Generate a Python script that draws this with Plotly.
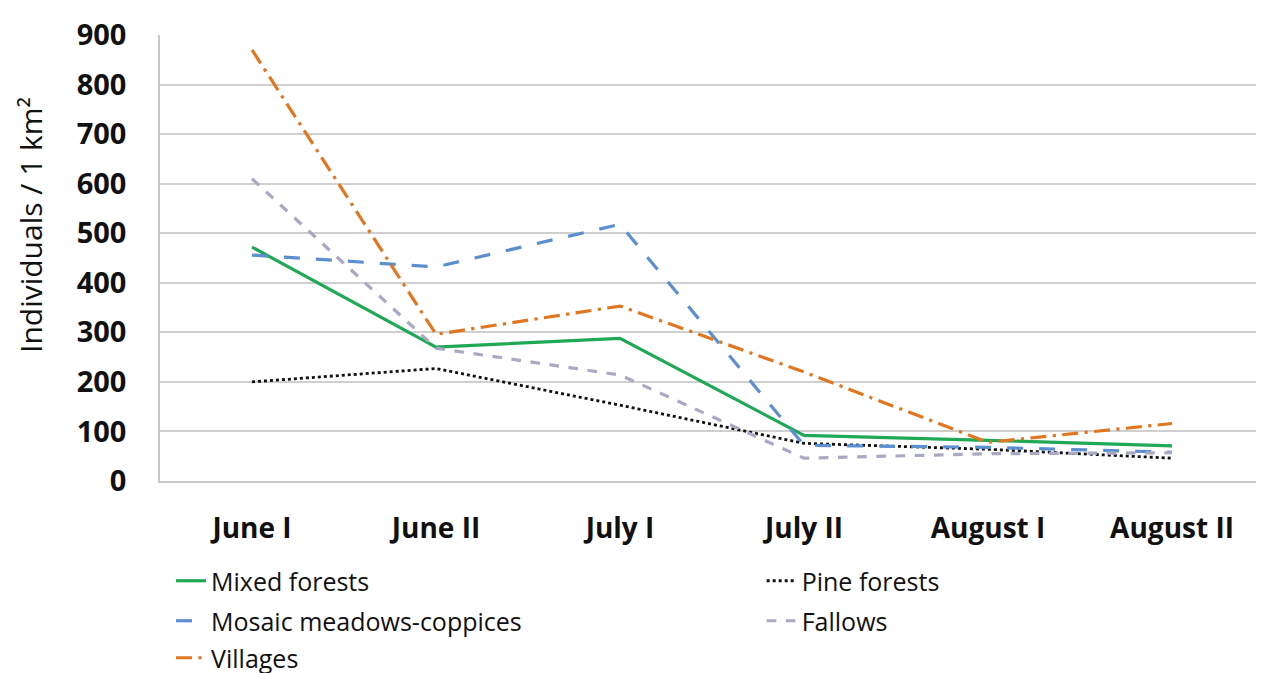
import plotly.graph_objects as go

categories = ["June I", "June II", "July I", "July II", "August I", "August II"]
mixed_forests = [472, 270, 288, 92, 82, 71]
pine_forests = [200, 227, 153, 76, 64, 46]
mosaic = [456, 432, 518, 72, 68, 58]
fallows = [610, 268, 214, 46, 55, 57]
villages = [870, 296, 353, 220, 78, 116]

FONT = "Open Sans"

H = 446.0
def py(ypix):
    return (481 - ypix) / H

COL1, COL2 = 0.010, 0.545

# name, values, colour, dash, width, legend id, legend x, legend y (ref px)
series = [
    ("Mixed forests", mixed_forests, "#1fa855", "solid", 3.2, "legend", COL1, 581),
    ("Pine forests", pine_forests, "#111111", "dot", 2.8, "legend2", COL2, 581),
    ("Mosaic meadows-coppices", mosaic, "#5b8fd0", "longdash", 3.2, "legend3", COL1, 621),
    ("Fallows", fallows, "#a9a9c6", "dash", 3.2, "legend4", COL2, 621),
    ("Villages", villages, "#e0761f", "longdashdot", 3.2, "legend5", COL1, 658),
]

fig = go.Figure()
legends = {}
for name, vals, color, dash, width, leg, lx, ly in series:
    fig.add_trace(go.Scatter(
        x=categories, y=vals, mode="lines", name=name,
        line=dict(color=color, dash=dash, width=width),
        legend=leg, showlegend=True,
    ))
    legends[leg] = dict(
        x=lx, y=py(ly), xanchor="left", yanchor="middle",
        orientation="h",
        font=dict(family=FONT, size=25, color="#111111"),
        bgcolor="rgba(0,0,0,0)",
        itemclick=False, itemdoubleclick=False,
    )

fig.update_layout(
    width=1256, height=665,
    showlegend=True,
    margin=dict(l=152, r=0, t=27, b=192, autoexpand=False),
    paper_bgcolor="white", plot_bgcolor="white",
    font=dict(family=FONT, color="#111111"),
    **legends,
    xaxis=dict(
        type="category", range=[-0.5, 5.5],
        showgrid=False, showline=True, linecolor="#c8c8c8", linewidth=1.5,
        ticks="", tickfont=dict(family=FONT, size=28, color="#111111", weight="bold"),
        ticklabelstandoff=22, fixedrange=True,
    ),
    yaxis=dict(
        range=[0, 900], dtick=100, tick0=0,
        showgrid=True, gridcolor="#cfcfcf", gridwidth=1.5,
        showline=True, linecolor="#c8c8c8", linewidth=1.5,
        zeroline=False, ticks="",
        tickfont=dict(family=FONT, size=29, color="#111111", weight="bold"),
        ticklabelstandoff=26, fixedrange=True,
    ),
    annotations=[dict(
        text="Individuals / 1 km²", textangle=-90,
        xref="paper", yref="paper", x=0, y=py(225),
        xanchor="center", yanchor="middle",
        xshift=-130, showarrow=False,
        font=dict(family=FONT, size=30, color="#111111"),
    )],
)

fig.write_html("out.html")
